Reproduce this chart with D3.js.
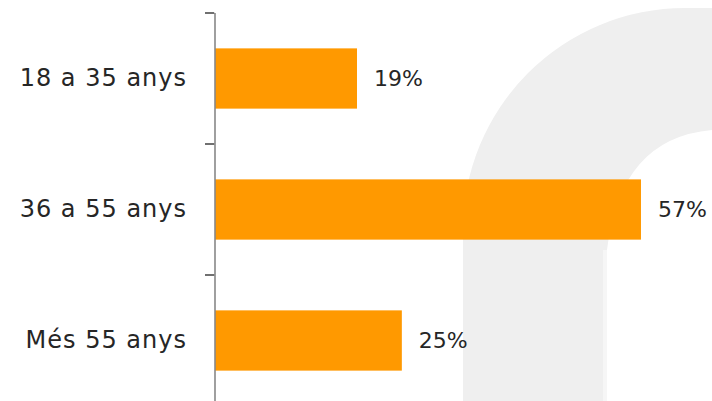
<!DOCTYPE html>
<html>
<head>
<meta charset="utf-8">
<script src="https://cdn.jsdelivr.net/npm/d3@7"></script>
<style>
  body { margin: 0; background: #fff; }
  text { font-family: "Century Gothic", "DejaVu Sans", sans-serif; }
</style>
</head>
<body>
<div id="chart"></div>
<script>
const categories = ["18 a 35 anys", "36 a 55 anys", "Més 55 anys"];
const values = [19, 57, 25];
const valueLabels = ["19%", "57%", "25%"];

const W = 712, H = 401;
const margin = { top: 13, left: 215 };
const plotH = 393, plotW = 448.4;

const svg = d3.select("#chart").append("svg")
    .attr("width", W)
    .attr("height", H);

// faint watermark in the background
svg.append("path")
    .attr("fill", "#efefef")
    .attr("d", "M463,401 L463,230 A222,222 0 0 1 685,8 L712,8 L712,130 Q620,138 607,250 L607,401 Z");
svg.append("rect")
    .attr("x", 603).attr("y", 250).attr("width", 4).attr("height", 151)
    .attr("fill", "#f6f6f6");

const y = d3.scaleBand()
    .domain(categories)
    .range([margin.top, margin.top + plotH])
    .paddingInner(0.54)
    .paddingOuter(0.27);

const x = d3.scaleLinear()
    .domain([0, 60])
    .range([margin.left, margin.left + plotW]);

const data = categories.map((c, i) => ({ cat: c, v: values[i], label: valueLabels[i] }));

svg.append("g")
    .selectAll("rect")
    .data(data)
    .join("rect")
    .attr("x", x(0))
    .attr("y", d => y(d.cat))
    .attr("width", d => x(d.v) - x(0))
    .attr("height", y.bandwidth())
    .attr("fill", "#ff9900");

// category labels
svg.append("g")
    .attr("transform", `translate(${x(0)},0)`)
    .call(d3.axisLeft(y).tickSize(0).tickPadding(28))
    .call(g => g.select(".domain").remove())
    .selectAll("text")
    .attr("font-size", 24)
    .attr("letter-spacing", 1)
    .attr("fill", "#262626");

// axis line and ticks on category boundaries
const half = y.step() * y.paddingInner() / 2;
const bounds = categories.map(c => y(c) - half).concat([y(categories[categories.length - 1]) + y.bandwidth() + half]);

svg.append("line")
    .attr("x1", x(0)).attr("x2", x(0))
    .attr("y1", bounds[0]).attr("y2", bounds[bounds.length - 1])
    .attr("stroke", "#888")
    .attr("stroke-width", 1.6);

svg.append("g")
    .selectAll("line")
    .data(bounds)
    .join("line")
    .attr("x1", x(0) - 10).attr("x2", x(0) - 0.8)
    .attr("y1", d => d).attr("y2", d => d)
    .attr("stroke", "#222")
    .attr("stroke-width", 1.3);

// value labels
svg.append("g")
    .selectAll("text")
    .data(data)
    .join("text")
    .attr("x", d => x(d.v) + 17)
    .attr("y", d => y(d.cat) + y.bandwidth() / 2)
    .attr("dy", "0.35em")
    .attr("font-size", 22)
    .attr("fill", "#262626")
    .text(d => d.label);
</script>
</body>
</html>
